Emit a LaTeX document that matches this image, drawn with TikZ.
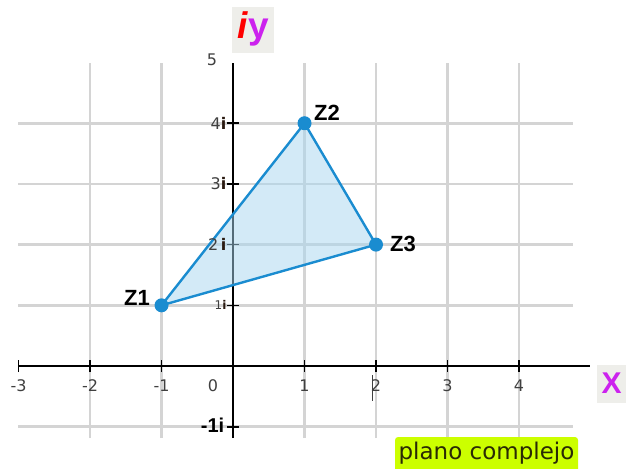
\documentclass[tikz,border=0pt]{standalone}
\usepackage{fontspec}
\setmainfont{Liberation Sans}
\newfontfamily\dvfont{DejaVu Sans}
\definecolor{gridc}{HTML}{D4D4D4}
\definecolor{edgec}{HTML}{1A8CD0}
\definecolor{fillc}{HTML}{A8D6F0}
\definecolor{tickc}{HTML}{404040}
\definecolor{ibrown}{HTML}{2A1A10}
\definecolor{boxgray}{HTML}{EEEEEA}
\definecolor{magentac}{HTML}{CC22EE}
\definecolor{limec}{HTML}{CCFF00}
\definecolor{olivec}{HTML}{2A2A05}
\tikzset{
  gridline/.style={gridc, line width=2.6pt},
  axisline/.style={black, line width=2.6pt},
  tickmark/.style={black, line width=1.6pt},
  xlab/.style={font=\dvfont\fontsize{16}{16}\selectfont, text=tickc, inner sep=0pt},
  ylab/.style={font=\dvfont\fontsize{16}{16}\selectfont, text=tickc, inner sep=0pt, anchor=east},
  pt/.style={circle, fill=edgec, minimum size=14pt, inner sep=0pt},
  zlab/.style={font=\bfseries\fontsize{22}{22}\selectfont, inner sep=0pt}
}
\newcommand{\ibold}{\textcolor{ibrown}{\textbf{i}}}
\begin{document}
\begin{tikzpicture}[x=71.5pt, y=60.7pt]
\useasboundingbox (-3.259,-1.680) rectangle (5.608,6.030);
\fill[white] (-3.259,-1.680) rectangle (5.608,6.030);
% grid
\foreach \k in {-1,1,2,3,4}
  \draw[gridline] (-3.007,\k) -- (4.755,\k);
\foreach \k in {-2,-1,1,2,3,4}
  \draw[gridline] (\k,-1.186) -- (\k,4.992);
% axes
\draw[axisline] (-3.007,0) -- (4.993,0);
\draw[axisline] (0,-1.186) -- (0,4.992);
% ticks
\foreach \k in {-3,-2,-1,1,2,3,4}
  \draw[tickmark] (\k,-0.1) -- (\k,0.1);
\foreach \k in {-1,1,2,3,4}
  \draw[tickmark] (-0.09,\k) -- (0.09,\k);
% triangle
\coordinate (c1) at (-1,1);
\coordinate (c2) at (1,4);
\coordinate (c3) at (2,2);
\fill[fillc, fill opacity=0.5] (c1) -- (c2) -- (c3) -- cycle;
\draw[edgec, line width=2.4pt, line join=round] (c1) -- (c2) -- (c3) -- cycle;
% x labels
\foreach \k/\t in {-3/-3,-2/-2,-1/-1,1/1,2/2,3/3,4/4}
  \node[xlab] (xl\k) at (\k,-0.329) {\t};
\node[xlab] (xl0) at (-0.28,-0.329) {0};
\draw[tickc, line width=1pt] (1.95,-0.15) -- (1.95,-0.58);
% y labels
\node[xlab] (y5) at (-0.294,5.04) {5};
\node[ylab] (y4) at (-0.09,4) {4\ibold};
\node[ylab] (y3) at (-0.09,3) {3\ibold};
\node[ylab] (y2) at (-0.09,2) {2\,\ibold};
\node[ylab] (y1) at (-0.09,1) {\fontsize{12}{12}\selectfont 1\ibold};
\node[ylab, font=\bfseries\fontsize{20}{20}\selectfont, text=black] (ym1) at (-0.12,-0.97) {-1i};
% title boxes
\fill[boxgray] (-0.014,5.157) rectangle (0.573,5.914);
\node[inner sep=0pt, font=\bfseries\fontsize{37}{37}\selectfont] (iy) at (0.28,5.55) {\textcolor{red}{\textit{i}}\textcolor{magentac}{y}};
\fill[boxgray] (5.091,0.016) rectangle (5.497,-0.610);
\node[inner sep=0pt, font=\bfseries\fontsize{30}{30}\selectfont, text=magentac] (xx) at (5.294,-0.29) {X};
\fill[limec, rounded corners=3pt] (2.266,-1.170) rectangle (4.825,-1.80);
\node[inner sep=0pt, font=\dvfont\fontsize{23}{23}\selectfont, text=olivec] (pc) at (3.545,-1.43) {plano complejo};
% points
\node[pt] (z1) at (c1) {};
\node[pt] (z2) at (c2) {};
\node[pt] (z3) at (c3) {};
\node[zlab] (l1) at (-1.343,1.120) {Z1};
\node[zlab] (l2) at (1.315,4.168) {Z2};
\node[zlab] (l3) at (2.378,2.010) {Z3};
\end{tikzpicture}
\end{document}
